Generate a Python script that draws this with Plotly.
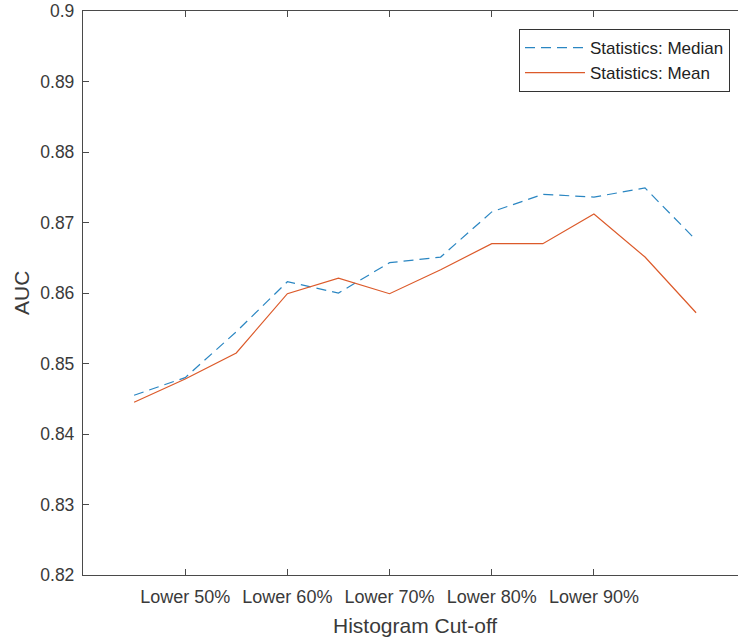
import plotly.graph_objects as go

# AUC versus histogram cut-off for two summary statistics
cutoff = [0.5, 1.0, 1.5, 2.0, 2.5, 3.0, 3.5, 4.0, 4.5, 5.0, 5.5, 6.0]
auc_median = [0.8455, 0.8480, 0.8545, 0.8616, 0.8600, 0.8643,
              0.8651, 0.8715, 0.8740, 0.8736, 0.8749, 0.8675]
auc_mean = [0.8445, 0.8478, 0.8515, 0.8599, 0.8621, 0.8599,
            0.8633, 0.8670, 0.8670, 0.8712, 0.8651, 0.8572]

x_tickvals = [1, 2, 3, 4, 5]
x_ticktext = ["Lower 50%", "Lower 60%", "Lower 70%", "Lower 80%", "Lower 90%"]
y_tickvals = [0.82, 0.83, 0.84, 0.85, 0.86, 0.87, 0.88, 0.89, 0.90]
y_ticktext = ["0.82", "0.83", "0.84", "0.85", "0.86", "0.87", "0.88", "0.89", "0.9"]

W, H = 738, 638
ML, MR, MT, MB = 83, 0, 11, 63
plot_w = W - ML - MR
plot_h = H - MT - MB

FONT = "Liberation Sans, Arial, Helvetica, sans-serif"
AXIS_COLOR = "#4a4a4a"
TEXT_COLOR = "#3a3a3a"


def px_to_paper(px, py):
    return (px - ML) / plot_w, (H - MB - py) / plot_h


fig = go.Figure()
fig.add_trace(go.Scatter(
    x=cutoff, y=auc_median, mode="lines", name="Statistics: Median",
    line=dict(color="#2a86c2", width=1.2, dash="10px,6px"),
))
fig.add_trace(go.Scatter(
    x=cutoff, y=auc_mean, mode="lines", name="Statistics: Mean",
    line=dict(color="#dc5a2a", width=1.2),
))

xt_x, xt_y = px_to_paper(415, 625)
yt_x, yt_y = px_to_paper(21, 293)
lg_x, lg_y = px_to_paper(730, 29)

fig.update_layout(
    width=W, height=H,
    margin=dict(l=ML, r=MR, t=MT, b=MB, pad=0),
    paper_bgcolor="white", plot_bgcolor="white",
    font=dict(family=FONT, size=18, color=TEXT_COLOR),
    showlegend=True,
    legend=dict(
        x=lg_x, y=lg_y, xanchor="right", yanchor="top",
        bgcolor="white", bordercolor="#333333", borderwidth=1,
        font=dict(family=FONT, size=17, color="#222222"),
        itemwidth=60, tracegroupgap=0,
    ),
    xaxis=dict(
        range=[0, 6.41], tickmode="array", tickvals=x_tickvals, ticktext=x_ticktext,
        showgrid=False, zeroline=False, showline=True, linecolor=AXIS_COLOR, linewidth=1.3,
        mirror="ticks", ticks="inside", ticklen=6, tickcolor=AXIS_COLOR, tickwidth=1,
        tickfont=dict(family=FONT, size=18, color=TEXT_COLOR),
        ticklabelstandoff=5,
    ),
    yaxis=dict(
        range=[0.82, 0.9], tickmode="array", tickvals=y_tickvals, ticktext=y_ticktext,
        showgrid=False, zeroline=False, showline=True, linecolor=AXIS_COLOR, linewidth=1.3,
        mirror=False, ticks="inside", ticklen=6, tickcolor=AXIS_COLOR, tickwidth=1,
        tickfont=dict(family=FONT, size=17.5, color=TEXT_COLOR),
        ticklabelstandoff=4,
    ),
    annotations=[
        dict(text="Histogram Cut-off", xref="paper", yref="paper", x=xt_x, y=xt_y,
             xanchor="center", yanchor="middle", showarrow=False,
             font=dict(family=FONT, size=21, color=TEXT_COLOR)),
        dict(text="AUC", xref="paper", yref="paper", x=yt_x, y=yt_y, textangle=-90,
             xanchor="center", yanchor="middle", showarrow=False,
             font=dict(family=FONT, size=21, color=TEXT_COLOR)),
    ],
)

fig.write_html("out.html")
